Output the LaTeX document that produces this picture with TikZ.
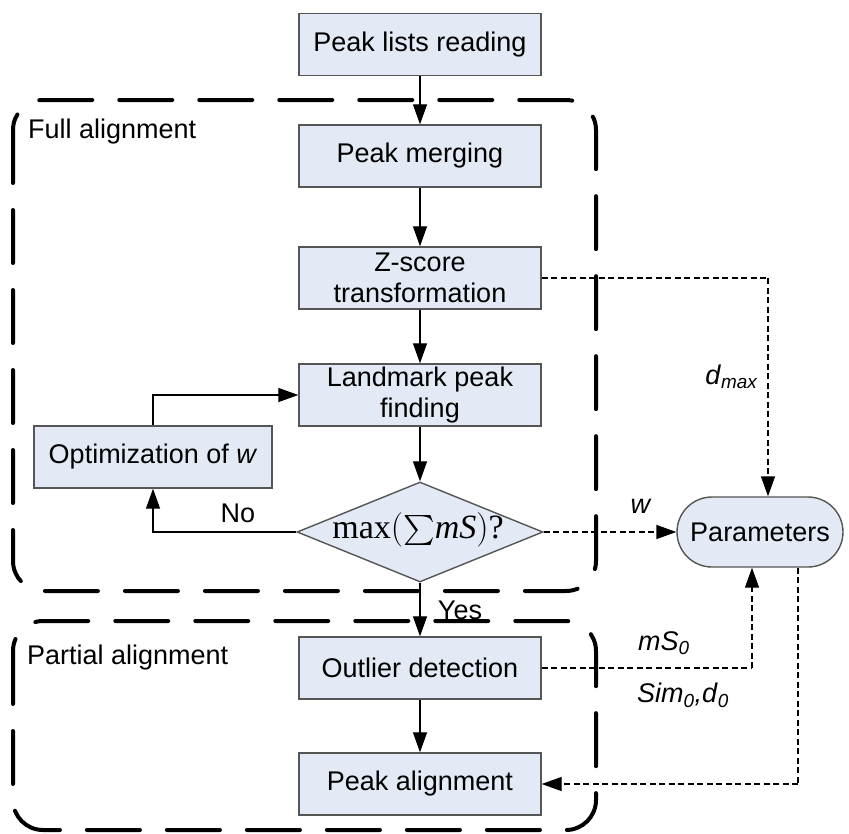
\documentclass[tikz,border=0pt]{standalone}
\usepackage{fontspec}
\setmainfont{Liberation Sans}
\newfontfamily\tnr{Liberation Serif}
\usetikzlibrary{shapes.geometric,shapes.misc,arrows.meta}
\definecolor{boxfill}{HTML}{E3E9F5}
\definecolor{boxline}{HTML}{555555}
\tikzset{
  proc/.style={draw=boxline, line width=1.4pt, fill=boxfill, minimum width=242pt, minimum height=62pt, inner sep=0pt, align=center},
  flow/.style={line width=1.3pt, -{Triangle[length=20pt,width=14pt]}},
  dflow/.style={line width=1.4pt, dash pattern=on 6pt off 3.5pt, -{Triangle[length=20pt,width=14pt]}},
  dline/.style={line width=1.4pt, dash pattern=on 6pt off 3.5pt},
  group/.style={line width=4pt, dash pattern=on 53pt off 27pt, rounded corners=30pt, line cap=round},
  lbl/.style={inner sep=0pt},
}
\begin{document}
\begin{tikzpicture}[x=1pt,y=-1pt, font=\fontsize{27}{31}\selectfont]
\useasboundingbox (0,0) rectangle (849,833);
% groups
\draw[group] (13,100) rectangle (596,591);
\draw[group] (13,621) rectangle (596,830);
\node[lbl, anchor=west] (fulllbl) at (28,132) {Full alignment};
\node[lbl, anchor=west] (partlbl) at (27,658) {Partial alignment};
% main boxes
\node[proc] (plr) at (420,44.5) {Peak lists reading};
\node[proc] (pm) at (420,156) {Peak merging};
\node[proc] (zs) at (420,278) {Z-score\\transformation};
\node[proc] (lm) at (420,395) {Landmark peak\\finding};
\node[proc, minimum width=238pt] (opt) at (153,457) {Optimization of \textit{w}};
\node[diamond, draw=boxline, line width=1.4pt, fill=boxfill, minimum width=246pt, minimum height=100pt, inner sep=0pt] (dia) at (420,532) {};
\node[lbl, scale=2] (diatext) at (418,530) {\fontsize{17}{20}\selectfont $\mbox{\tnr max}\Bigl(\vcenter{\hbox{\scalebox{1.5}{$\sum$}}}\mbox{\tnr\itshape mS}\Bigr)\mbox{\tnr ?}$};
\node[proc] (od) at (420,668) {Outlier detection};
\node[proc] (pa) at (420,784) {Peak alignment};
\node[rounded rectangle, draw=boxline, line width=1.4pt, fill=boxfill, minimum width=166pt, minimum height=70pt, inner sep=0pt] (par) at (760,532) {Parameters};
% solid flow
\draw[flow] (plr) -- (pm);
\draw[flow] (pm) -- (zs);
\draw[flow] (zs) -- (lm);
\draw[flow] (lm) -- (dia);
\draw[flow] (dia) -- (od);
\draw[flow] (od) -- (pa);
\draw[flow] (dia.west) -| (opt.south);
\draw[flow] (opt.north) |- (lm.west);
\node[lbl] (nolbl) at (238,513) {No};
\node[lbl] (yeslbl) at (460,610) {Yes};
% dashed
\coordinate (c1) at (768,278);
\draw[dline] (zs.east) -- (c1);
\draw[dflow] (c1) -- (c1 |- par.north);
\node[lbl, anchor=east] (dmax) at (758,377) {\textit{d}\textsubscript{\textit{max}}};
\draw[dflow] (dia.east) -- (par.west);
\node[lbl] (wlbl) at (641,506) {\textit{w}};
\coordinate (c3) at (752,668);
\draw[dline] (od.east) -- (c3);
\draw[dflow] (c3) -- (c3 |- par.south);
\node[lbl, anchor=west] (ms0) at (638,643) {\textit{mS}\textsubscript{\textit{0}}};
\node[lbl, anchor=west] (sim0) at (637,695) {\textit{Sim}\textsubscript{\textit{0}}\textit{,d}\textsubscript{\textit{0}}};
\coordinate (c2) at (798,784);
\draw[dline] (par.south -| c2) -- (c2);
\draw[dflow] (c2) -- (pa.east);
\end{tikzpicture}
\end{document}
